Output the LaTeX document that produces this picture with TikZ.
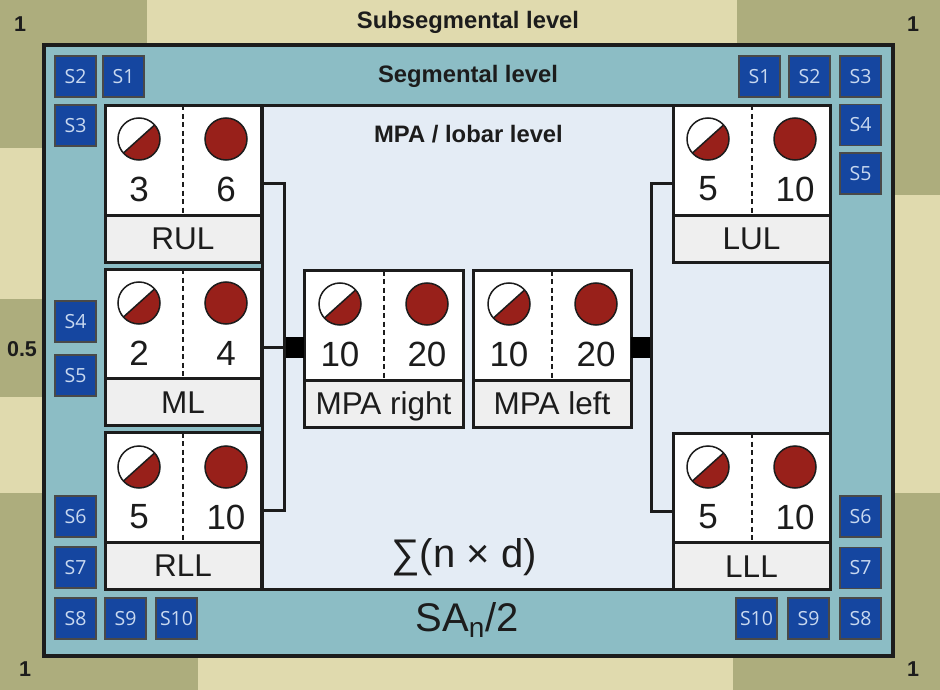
\documentclass[tikz,border=0pt]{standalone}
\usepackage{fontspec}
\usepackage{tikz}
\setmainfont{Liberation Sans}
\newfontfamily\segfont{Open Sans}
\definecolor{sandlight}{HTML}{E0DAAE}
\definecolor{sanddark}{HTML}{ADAD7D}
\definecolor{segteal}{HTML}{8CBDC5}
\definecolor{lobarblue}{HTML}{E4ECF5}
\definecolor{segblue}{HTML}{1546A0}
\definecolor{segtext}{HTML}{C9D9F0}
\definecolor{discred}{HTML}{98201A}
\definecolor{tagfill}{HTML}{EFEFEF}
\definecolor{ink}{HTML}{1C1C1C}
\tikzset{
    panel/.style={rectangle,draw=ink,line width=3pt,fill=white,minimum width=156pt,minimum height=110pt,outer sep=0pt},
    tag/.style={rectangle,draw=ink,line width=3pt,fill=tagfill,minimum width=156pt,minimum height=47pt,outer sep=0pt,text=ink,font=\fontsize{31.5}{31.5}\selectfont,inner sep=0pt,text height=22pt,text depth=0pt},
    fulldisc/.style={circle,draw=ink,line width=1.5pt,fill=discred,minimum size=42pt,inner sep=0pt},
    halfdisc/.style={circle,draw=ink,line width=1.5pt,fill=white,minimum size=42pt,inner sep=0pt,
        path picture={
            \fill[discred] (path picture bounding box.center) ++(42:30pt) -- ++(-48:30pt) -- ++(222:60pt) -- ++(132:30pt) -- cycle;
            \draw[ink,line width=1.5pt] (path picture bounding box.center) ++(42:30pt) -- ++(222:60pt);
        }},
    count/.style={text=ink,font=\fontsize{35}{35}\selectfont,inner sep=0pt},
    seg/.style={rectangle,draw=ink!80,line width=1.5pt,fill=segblue,minimum size=41pt,inner sep=0pt,text=segtext,font=\segfont\fontsize{19.5}{19.5}\selectfont},
    level/.style={text=ink,font=\bfseries\fontsize{23.8}{23.8}\selectfont,inner sep=0pt},
    weight/.style={text=ink,font=\bfseries\fontsize{21.5}{21.5}\selectfont,inner sep=0pt},
    divider/.style={draw=ink,line width=2pt,dash pattern=on 5pt off 3.5pt},
    link/.style={draw=ink,line width=3pt,line join=miter},
    bus/.style={rectangle,fill=black,minimum width=20pt,minimum height=21pt,inner sep=0pt,outer sep=0pt}
}
\begin{document}
\begin{tikzpicture}[x=1pt,y=-1pt,node distance=50pt]
    \useasboundingbox (0,0) rectangle (940,690);
    % subsegmental background
    \fill[sandlight] (0,0) rectangle (940,690);
    \fill[sanddark] (0,0) rectangle (147,148);
    \fill[sanddark] (737,0) rectangle (940,195);
    \fill[sanddark] (0,299) rectangle (44,397);
    \fill[sanddark] (0,493) rectangle (44,690);
    \fill[sanddark] (0,656) rectangle (198,690);
    \fill[sanddark] (893,493) rectangle (940,690);
    \fill[sanddark] (733,656) rectangle (940,690);
    \node[weight] (w1) at (20,24) {1};
    \node[weight] (w2) at (913,24) {1};
    \node[weight] (w3) at (22,349) {0.5};
    \node[weight] (w4) at (25,669) {1};
    \node[weight] (w5) at (913,669) {1};
    \node[level] (subseg) at (468,22) {Subsegmental level};

    % segmental frame and lobar field
    \node[rectangle,draw=ink,line width=3.5pt,fill=segteal,minimum width=849pt,minimum height=611pt,outer sep=0pt] (segframe) at (468.5,350.5) {};
    \node[rectangle,draw=ink,line width=3pt,fill=lobarblue,minimum width=568pt,minimum height=483pt,outer sep=0pt] (lobar) at (546,347.5) {};
    \node[level] (seglabel) at (468,76) {Segmental level};
    \node[level] (lobarlabel) at (468.5,134) {MPA / lobar level};
    \node[text=ink,font=\fontsize{40}{40}\selectfont,inner sep=0pt] (sumlabel) at (464,557) {∑(n × d)};
    \node[text=ink,font=\fontsize{40}{40}\selectfont,inner sep=0pt] (salabel) at (467,620) {SA\textsubscript{n}/2};

    % segments left
    \node[seg] (ls2) at (75.5,76.5) {S2};
    \node[seg] (ls1) at (123.5,76.5) {S1};
    \node[seg] (ls3) at (75.5,125.5) {S3};
    \node[seg] (ls4) at (75.5,321.5) {S4};
    \node[seg] (ls5) at (75.5,375.5) {S5};
    \node[seg] (ls6) at (75.5,516.5) {S6};
    \node[seg] (ls7) at (75.5,567.5) {S7};
    \node[seg] (ls8) at (75.5,618.5) {S8};
    \node[seg] (ls9) at (125.5,618.5) {S9};
    \node[seg] (ls10) at (176.5,618.5) {S10};
    % segments right
    \node[seg] (rs1) at (759.5,76.5) {S1};
    \node[seg] (rs2) at (809.5,76.5) {S2};
    \node[seg] (rs3) at (860.5,76.5) {S3};
    \node[seg] (rs4) at (860.5,125) {S4};
    \node[seg] (rs5) at (860.5,173.5) {S5};
    \node[seg] (rs6) at (860.5,516.5) {S6};
    \node[seg] (rs7) at (860.5,568) {S7};
    \node[seg] (rs8) at (860.5,618.5) {S8};
    \node[seg] (rs9) at (808.5,618.5) {S9};
    \node[seg] (rs10) at (756.5,618.5) {S10};

    % RUL
    \node[panel] (RUL) at (183,160.5) {};
    \node[tag, below of=RUL, node distance=78pt] (RULtag) {RUL};
    \draw[divider] (RUL.north) -- (RUL.south);
    \node[halfdisc] (RULa) at (139,139) {};
    \node[fulldisc, right of=RULa, node distance=87pt] (RULb) {};
    \node[count, below of=RULa] (RULc) {3};
    \node[count, below of=RULb] (RULd) {6};
    % ML
    \node[panel] (ML) at (183,324) {};
    \node[tag, below of=ML, node distance=78pt] (MLtag) {ML};
    \draw[divider] (ML.north) -- (ML.south);
    \node[halfdisc] (MLa) at (139,303) {};
    \node[fulldisc, right of=MLa, node distance=87pt] (MLb) {};
    \node[count, below of=MLa] (MLc) {2};
    \node[count, below of=MLb] (MLd) {4};
    % RLL
    \node[panel] (RLL) at (183,487.5) {};
    \node[tag, below of=RLL, node distance=78pt] (RLLtag) {RLL};
    \draw[divider] (RLL.north) -- (RLL.south);
    \node[halfdisc] (RLLa) at (139,467) {};
    \node[fulldisc, right of=RLLa, node distance=87pt] (RLLb) {};
    \node[count, below of=RLLa] (RLLc) {5};
    \node[count, below of=RLLb] (RLLd) {10};
    % LUL
    \node[panel, minimum width=157pt] (LUL) at (751.5,160.5) {};
    \node[tag, minimum width=157pt, below of=LUL, node distance=78pt] (LULtag) {LUL};
    \draw[divider] (LUL.north) -- (LUL.south);
    \node[halfdisc] (LULa) at (708,139) {};
    \node[fulldisc, right of=LULa, node distance=87pt] (LULb) {};
    \node[count, below of=LULa] (LULc) {5};
    \node[count, below of=LULb] (LULd) {10};
    % LLL
    \node[panel, minimum width=157pt] (LLL) at (751.5,488) {};
    \node[tag, minimum width=157pt, below of=LLL, node distance=78pt] (LLLtag) {LLL};
    \draw[divider] (LLL.north) -- (LLL.south);
    \node[halfdisc] (LLLa) at (708,467) {};
    \node[fulldisc, right of=LLLa, node distance=87pt] (LLLb) {};
    \node[count, below of=LLLa] (LLLc) {5};
    \node[count, below of=LLLb] (LLLd) {10};
    % MPA right
    \node[panel, minimum width=159pt] (MPAR) at (383.5,325.5) {};
    \node[tag, minimum width=159pt, below of=MPAR, node distance=78pt] (MPARtag) {MPA right};
    \draw[divider] (MPAR.north) -- (MPAR.south);
    \node[halfdisc] (MPARa) at (340,304) {};
    \node[fulldisc, right of=MPARa, node distance=87pt] (MPARb) {};
    \node[count, below of=MPARa] (MPARc) {10};
    \node[count, below of=MPARb] (MPARd) {20};
    % MPA left
    \node[panel, minimum width=158pt] (MPAL) at (552,325.5) {};
    \node[tag, minimum width=158pt, below of=MPAL, node distance=78pt] (MPALtag) {MPA left};
    \draw[divider] (MPAL.north) -- (MPAL.south);
    \node[halfdisc] (MPALa) at (509,304) {};
    \node[fulldisc, right of=MPALa, node distance=87pt] (MPALb) {};
    \node[count, below of=MPALa] (MPALc) {10};
    \node[count, below of=MPALb] (MPALd) {20};

    % links
    \node[bus] (busR) at (294,347) {};
    \node[bus] (busL) at (641,347) {};
    \draw[link] ([yshift=32pt]RUL.south east) -| (busR.west) |- ([yshift=32pt]RLL.south east);
    \draw[link] ([yshift=32pt]ML.south east) -- (busR.west);
    \draw[link] ([yshift=32pt]LUL.south west) -| (busL.east) |- ([yshift=32pt]LLL.south west);
\end{tikzpicture}
\end{document}
